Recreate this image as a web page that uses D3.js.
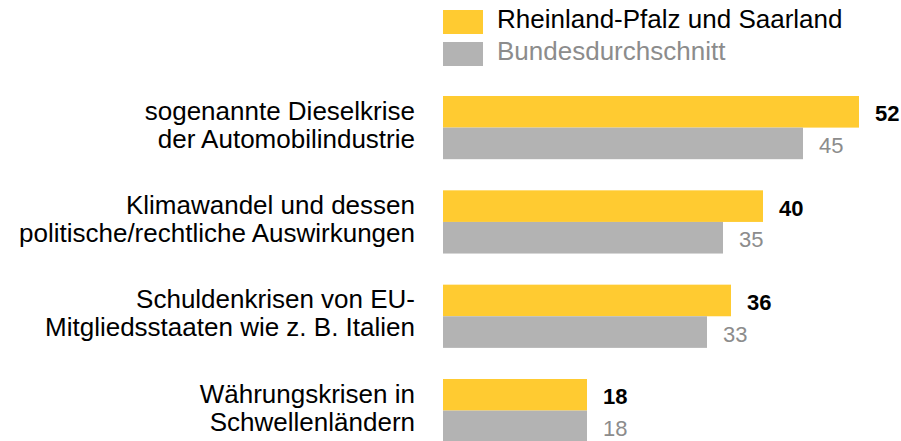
<!DOCTYPE html>
<html>
<head>
<meta charset="utf-8">
<script src="https://cdn.jsdelivr.net/npm/d3@7"></script>
<style>
  body { margin: 0; background: #fff; }
  svg { display: block; font-family: "Liberation Sans", Arial, sans-serif; }
</style>
</head>
<body>
<div id="container"></div>
<script>
// Data
var categories = [
    ['sogenannte Dieselkrise', 'der Automobilindustrie'],
    ['Klimawandel und dessen', 'politische/rechtliche Auswirkungen'],
    ['Schuldenkrisen von EU-', 'Mitgliedsstaaten wie z. B. Italien'],
    ['Währungskrisen in', 'Schwellenländern']
];
var seriesNames = ['Rheinland-Pfalz und Saarland', 'Bundesdurchschnitt'];
var rlpValues = [52, 40, 36, 18];
var bundValues = [45, 35, 33, 18];

// Basic parameters
var WIDTH = 901,
    HEIGHT = 441;

var barColors = ['#ffcb31', '#b3b3b3'];
var textColors = ['#000000', '#8c8c8c'];

var svg = d3.select('#container')
    .append('svg')
    .attr('width', WIDTH)
    .attr('height', HEIGHT);

var x = d3.scaleLinear()
    .domain([0, 60])
    .range([443, 923]);

var y = d3.scaleBand()
    .domain(d3.range(categories.length))
    .range([96, 442.2])
    .paddingInner(0.33)
    .paddingOuter(0);

var ySub = d3.scaleBand()
    .domain([0, 1])
    .range([0, y.bandwidth()]);

var rows = categories.map(function(c, i) {
    return { lines: c, values: [rlpValues[i], bundValues[i]] };
});

// Legend
var legend = svg.selectAll('.legend')
    .data(seriesNames)
    .enter()
    .append('g')
    .attr('class', 'legend')
    .attr('transform', function(d, i) { return 'translate(443,' + (10 + i * 32) + ')'; });

legend.append('rect')
    .attr('width', 40)
    .attr('height', 24)
    .attr('fill', function(d, i) { return barColors[i]; });

legend.append('text')
    .attr('x', 54)
    .attr('y', 17.5)
    .attr('font-size', 26)
    .attr('fill', function(d, i) { return textColors[i]; })
    .text(function(d) { return d; });

// Groups
var groups = svg.selectAll('.group')
    .data(rows)
    .enter()
    .append('g')
    .attr('class', 'group')
    .attr('transform', function(d, i) { return 'translate(0,' + y(i) + ')'; });

// category labels
groups.append('text')
    .attr('text-anchor', 'end')
    .attr('font-size', 26)
    .attr('fill', '#000')
    .selectAll('tspan')
    .data(function(d) { return d.lines; })
    .enter()
    .append('tspan')
    .attr('x', 415)
    .attr('y', function(d, i) { return y.bandwidth() / 2 - 8 + i * 28; })
    .text(function(d) { return d; });

var bars = groups.selectAll('.bar')
    .data(function(d) { return d.values; })
    .enter();

bars.append('rect')
    .attr('class', 'bar')
    .attr('x', x(0))
    .attr('y', function(d, i) { return ySub(i); })
    .attr('width', function(d) { return x(d) - x(0); })
    .attr('height', ySub.bandwidth())
    .attr('fill', function(d, i) { return barColors[i]; });

bars.append('text')
    .attr('x', function(d) { return x(d) + 16; })
    .attr('y', function(d, i) { return ySub(i) + ySub.bandwidth() / 2 + 9.5; })
    .attr('font-size', 22)
    .attr('font-weight', function(d, i) { return i === 0 ? 'bold' : 'normal'; })
    .attr('fill', function(d, i) { return textColors[i]; })
    .text(function(d) { return d; });
</script>
</body>
</html>
